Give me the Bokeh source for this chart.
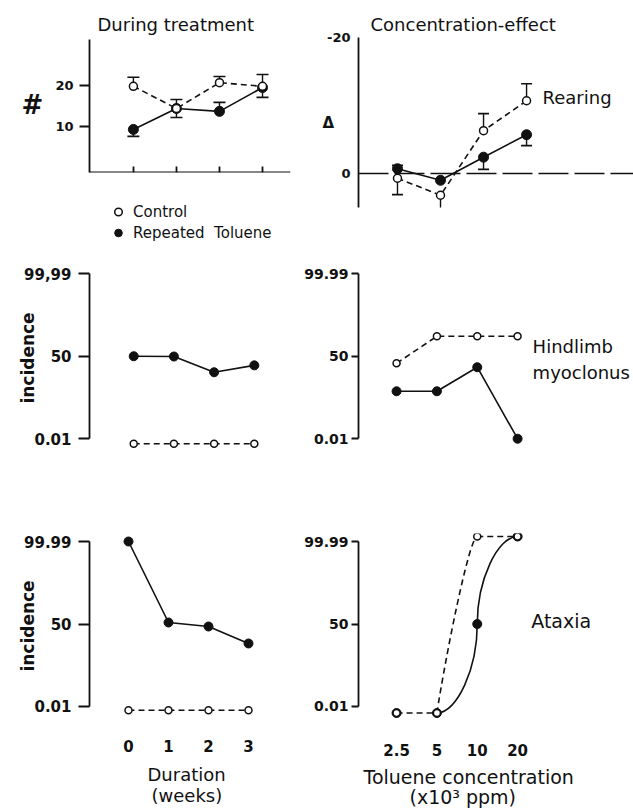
import math
from statistics import NormalDist
from bokeh.plotting import figure
from bokeh.layouts import column, row
from bokeh.models import Range1d, FixedTicker, Span, Label, Legend, LegendItem, Title
from bokeh.embed import file_html
from bokeh.resources import INLINE

NAN = float("nan")

# ---------------- data ----------------
weeks = [0, 1, 2, 3]
week_labels = ["0", "1", "2", "3"]
conc = [2.5, 5, 10, 20]
conc_labels = ["2.5", "5", "10", "20"]

# Rearing (#) during treatment
rear_week_control = [19.8, 14.4, 20.7, 19.8]
rear_week_control_err = [22.0, 16.6, 22.2, 22.7]
rear_week_toluene = [9.3, 14.4, 13.7, 19.5]
rear_week_toluene_err = [7.6, 12.2, 15.9, 17.1]
rear_ticks = [10, 20]
rear_axis_bounds = (-1.2, 31.2)

# Rearing change (delta) vs concentration
rear_conc_control = [0.7, 3.2, -6.3, -10.7]
rear_conc_control_err = [3.1, 5.4, -8.8, -13.2]
rear_conc_toluene = [-0.7, 1.0, -2.4, -5.7]
rear_conc_toluene_err = [-1.2, NAN, -0.6, -4.1]
delta_ticks = [-20, 0]
delta_labels = ["-20", "0"]

# Hindlimb myoclonus incidence (%)
hind_week_control = [0.004, 0.004, 0.004, 0.004]
hind_week_toluene = [50.0, 49.5, 23.5, 34.0]
hind_conc_control = [37.5, 81.6, 81.6, 81.6]
hind_conc_toluene = [5.7, 5.7, 31.0, 0.01]

# Ataxia incidence (%)
atax_week_control = [0.005, 0.005, 0.005, 0.005]
atax_week_toluene = [99.99, 52.7, 45.5, 19.0]
atax_conc_control = [0.003, 0.003, 99.996, 99.996]
atax_conc_toluene = [0.003, 0.003, 50.0, 99.996]

incidence_ticks = [0.01, 50, 99.99]
incidence_labels_comma = ["0.01", "50", "99,99"]
incidence_labels = ["0.01", "50", "99.99"]

FONT = "DejaVu Sans"
INK = "#111111"
LW = 1.6
DASH = "6 4"


def probit(v):
    return round(NormalDist().inv_cdf(v / 100.0), 5)


def pz(vals):
    return [probit(v) for v in vals]


def make_fig(w, h, left, right, top, bottom, xr, yr, x_log=False, title=None):
    kw = {}
    if title is not None:
        kw["title"] = title
    p = figure(width=w, height=h, x_range=xr, y_range=yr,
               x_axis_type="log" if x_log else "linear",
               output_backend="svg", toolbar_location=None,
               min_border_left=left, min_border_right=right,
               min_border_top=top, min_border_bottom=bottom, **kw)
    p.grid.visible = False
    p.outline_line_color = None
    p.background_fill_color = "white"
    p.border_fill_color = "white"
    for ax in p.axis:
        ax.axis_line_color = INK
        ax.axis_line_width = 1.8
        ax.major_tick_line_color = INK
        ax.major_tick_line_width = 1.8
        ax.minor_tick_line_color = None
        ax.major_label_text_font = FONT
        ax.major_label_text_font_style = "bold"
        ax.major_label_text_color = INK
        ax.axis_label_text_font = FONT
        ax.axis_label_text_color = INK
    if p.title is not None:
        p.title.text_font = FONT
        p.title.text_font_style = "normal"
        p.title.text_font_size = "18px"
        p.title.text_color = INK
        p.title.align = "left"
    return p


def incidence_axis(p, labels, axis_label=None, right_col=False):
    ax = p.yaxis[0]
    zt = pz(incidence_ticks)
    ax.ticker = FixedTicker(ticks=zt)
    ax.major_label_overrides = {z: lab for z, lab in zip(zt, labels)}
    ax.bounds = (zt[0], zt[-1])
    ax.major_tick_in = 0
    if right_col:
        ax.major_tick_out = 7
        ax.major_label_standoff = 3
        ax.major_label_text_font_size = "14px"
    else:
        ax.major_tick_out = 11
        ax.major_label_standoff = 7
        ax.major_label_text_font_size = "15px"
    if axis_label:
        ax.axis_label = axis_label
        ax.axis_label_text_font_size = "17px"
        ax.axis_label_text_font_style = "bold"
        ax.axis_label_standoff = -17


def series(p, x, yc, yt):
    p.line(x, yc, line_dash=DASH, line_width=LW, color=INK)
    p.line(x, yt, line_width=LW, color=INK)
    p.scatter(x, yt, marker="circle", size=9, fill_color=INK, line_color=INK)
    p.scatter(x, yc, marker="circle", size=7, fill_color="white", line_color=INK, line_width=1.5)


def side_label(p, x, y, dx, dy, txt, size="18px"):
    p.add_layout(Label(x=x, y=y, x_offset=dx, y_offset=dy, text=txt,
                       text_font=FONT, text_font_size=size, text_color=INK,
                       text_baseline="middle", text_align="left"))


def bottom_axis(p, ticks, labels, standoff):
    xa = p.xaxis[0]
    xa.ticker = FixedTicker(ticks=ticks)
    xa.major_label_overrides = {t: s for t, s in zip(ticks, labels)}
    xa.axis_line_color = None
    xa.major_tick_line_color = None
    xa.major_tick_out = 0
    xa.major_tick_in = 0
    xa.major_label_standoff = standoff
    xa.major_label_text_font_size = "15px"


def bottom_titles(p, lines, size):
    for txt, off, so in lines:
        p.add_layout(Title(text=txt, align="left", offset=off, text_font=FONT, text_font_size=size,
                           text_font_style="normal", text_color=INK, standoff=so), "below")


# ---------------- top-left: rearing during treatment ----------------
p1 = make_fig(300, 180, 89, 10, 37, 8, Range1d(-1.02, 3.65), Range1d(rear_axis_bounds[0], 31.7),
              title="During treatment")
p1.title.offset = 8
p1.title.standoff = 5
xa = p1.xaxis[0]
xa.ticker = FixedTicker(ticks=[], minor_ticks=weeks)
xa.fixed_location = rear_axis_bounds[0]
xa.minor_tick_in = 6
xa.minor_tick_out = 0
xa.minor_tick_line_color = INK
xa.minor_tick_line_width = 1.8
xa.major_label_standoff = 0
ya = p1.yaxis[0]
ya.ticker = FixedTicker(ticks=rear_ticks)
ya.bounds = rear_axis_bounds
ya.major_tick_out = 10
ya.major_tick_in = 0
ya.major_label_standoff = 6
ya.major_label_text_font_size = "13px"
ya.axis_label = "#"
ya.axis_label_orientation = "horizontal"
ya.axis_label_text_font_size = "26px"
ya.axis_label_text_font_style = "bold"
ya.axis_label_standoff = 9

p1.line(weeks, rear_week_control, line_dash=DASH, line_width=LW, color=INK)
p1.line(weeks, rear_week_toluene, line_width=LW, color=INK)
p1.segment(weeks, rear_week_control, weeks, rear_week_control_err, line_width=1.4, color=INK)
p1.segment(weeks, rear_week_toluene, weeks, rear_week_toluene_err, line_width=1.4, color=INK)
p1.scatter(weeks, rear_week_control_err, marker="dash", size=12, line_width=1.6, color=INK)
p1.scatter(weeks, rear_week_toluene_err, marker="dash", size=12, line_width=1.6, color=INK)
p1.scatter(weeks, rear_week_toluene, marker="circle", size=10, fill_color=INK, line_color=INK)
p1.scatter(weeks, rear_week_control, marker="circle", size=8, fill_color="white",
           line_color=INK, line_width=1.5)

# legend panel under the top-left plot (its renderers fall outside its ranges; only the key shows)
pleg = figure(width=300, height=70, x_range=Range1d(0, 1), y_range=Range1d(0, 1),
              output_backend="svg", toolbar_location=None,
              min_border_left=89, min_border_right=10, min_border_top=0, min_border_bottom=0)
pleg.axis.visible = False
pleg.grid.visible = False
pleg.outline_line_color = None
pleg.border_fill_color = "white"
lo = pleg.scatter(x=weeks, y=rear_week_control, marker="circle", size=8, fill_color="white",
                  line_color=INK, line_width=1.5)
lf = pleg.scatter(x=weeks, y=rear_week_toluene, marker="circle", size=10, fill_color=INK,
                  line_color=INK)
leg = Legend(items=[LegendItem(label="Control", renderers=[lo]),
                    LegendItem(label="Repeated  Toluene", renderers=[lf])],
             location=(19, 8), orientation="vertical", margin=0, padding=0, spacing=2,
             border_line_color=None, background_fill_alpha=0,
             label_text_font=FONT, label_text_font_size="15px", label_text_color=INK,
             glyph_width=20, glyph_height=19, label_standoff=5, label_height=19)
pleg.add_layout(leg)

# ---------------- top-right: rearing concentration-effect ----------------
p2 = make_fig(333, 250, 58, 0, 37, 43, Range1d(1.334, 112), Range1d(5, -20), x_log=True,
              title="Concentration-effect")
p2.title.offset = 12
p2.title.standoff = 5
p2.xaxis.visible = False
ya = p2.yaxis[0]
ya.ticker = FixedTicker(ticks=delta_ticks)
ya.major_label_overrides = {t: s for t, s in zip(delta_ticks, delta_labels)}
ya.major_tick_out = 0
ya.major_tick_in = 0
ya.major_label_standoff = 8
ya.major_label_text_font_size = "13px"
ya.axis_label = "Δ"
ya.axis_label_orientation = "horizontal"
ya.axis_label_text_font_size = "15px"
ya.axis_label_text_font_style = "bold"
ya.axis_label_standoff = -10

p2.add_layout(Span(location=0, dimension="width", line_color=INK, line_width=1.5, line_dash="30 6"))
p2.line(conc, rear_conc_control, line_dash=DASH, line_width=LW, color=INK)
p2.line(conc, rear_conc_toluene, line_width=LW, color=INK)
p2.segment(conc, rear_conc_control, conc, rear_conc_control_err, line_width=1.4, color=INK)
p2.segment(conc, rear_conc_toluene, conc, rear_conc_toluene_err, line_width=1.4, color=INK)
p2.scatter(conc, rear_conc_control_err, marker="dash", size=11, line_width=1.6, color=INK)
p2.scatter(conc, rear_conc_toluene_err, marker="dash", size=11, line_width=1.6, color=INK)
p2.scatter(conc, rear_conc_toluene, marker="circle", size=10, fill_color=INK, line_color=INK)
p2.scatter(conc, rear_conc_control, marker="circle", size=8, fill_color="white",
           line_color=INK, line_width=1.5)
side_label(p2, conc[-1], rear_conc_control[-1], 16, 3, "Rearing")

# ---------------- middle-left: hindlimb myoclonus during treatment ----------------
p3 = make_fig(300, 250, 89, 10, 15, 50, Range1d(-1.1, 3.9), Range1d(-4.25, 4.09))
p3.xaxis.visible = False
incidence_axis(p3, incidence_labels_comma, "incidence")
series(p3, weeks, pz(hind_week_control), pz(hind_week_toluene))

# ---------------- middle-right: hindlimb myoclonus vs concentration ----------------
p4 = make_fig(333, 250, 58, 0, 15, 50, Range1d(1.30, 146.5), Range1d(-4.25, 4.09), x_log=True)
p4.xaxis.visible = False
incidence_axis(p4, incidence_labels, right_col=True)
hc = pz(hind_conc_control)
series(p4, conc, hc, pz(hind_conc_toluene))
side_label(p4, conc[-1], hc[-1], 15, -10, "Hindlimb")
side_label(p4, conc[-1], hc[-1], 15, -36, "myoclonus")

# ---------------- bottom-left: ataxia during treatment ----------------
p5 = make_fig(300, 310, 89, 10, 33, 92, Range1d(-0.975, 4.05), Range1d(-4.26, 4.08))
incidence_axis(p5, incidence_labels, "incidence")
bottom_axis(p5, weeks, week_labels, 21)
series(p5, weeks, pz(atax_week_control), pz(atax_week_toluene))
bottom_titles(p5, (("Duration", 58, 14), ("(weeks)", 62, -18)), "18px")

# ---------------- bottom-right: ataxia vs concentration ----------------
p6 = make_fig(333, 310, 58, 0, 33, 92, Range1d(1.30, 146.5), Range1d(-4.26, 4.08), x_log=True)
incidence_axis(p6, incidence_labels, right_col=True)
bottom_axis(p6, conc, conc_labels, 25)

ac = pz(atax_conc_control)
at = pz(atax_conc_toluene)


def logmix(a, b, f):
    return a * (b / a) ** f


# control (dashed): flat at low, steep rise 5 -> 10, flat at top
p6.line(conc[:2], ac[:2], line_dash=DASH, line_width=LW, color=INK)
p6.bezier(x0=[conc[1]], y0=[ac[1]], x1=[conc[2]], y1=[ac[2]],
          cx0=[logmix(conc[1], conc[2], 0.2)], cy0=[ac[1] + 0.3 * (ac[2] - ac[1])],
          cx1=[logmix(conc[1], conc[2], 0.8)], cy1=[ac[2]],
          line_dash=DASH, line_width=LW, line_color=INK)
p6.line(conc[2:], ac[2:], line_dash=DASH, line_width=LW, color=INK)
# toluene (solid): sigmoid through 5 -> 10 -> 20
p6.bezier(x0=[conc[1], conc[2]], y0=[at[1], at[2]], x1=[conc[2], conc[3]], y1=[at[2], at[3]],
          cx0=[logmix(conc[1], conc[2], 0.5), conc[2]],
          cy0=[at[1], at[2] + 0.5 * (at[3] - at[2])],
          cx1=[conc[2], logmix(conc[2], conc[3], 0.5)],
          cy1=[at[1] + 0.5 * (at[2] - at[1]), at[3]],
          line_width=LW, line_color=INK)
p6.scatter(conc, at, marker="circle", size=9, fill_color=INK, line_color=INK)
p6.scatter(conc, ac, marker="circle", size=7, fill_color="white", line_color=INK, line_width=1.5)
side_label(p6, conc[2], at[2], 54, 3, "Ataxia", "19px")
bottom_titles(p6, (("Toluene concentration", 5, 10), ("(x10³ ppm)", 51, -18)), "19px")

layout = column(row(column(p1, pleg), p2), row(p3, p4), row(p5, p6))
open("out.html", "w").write(file_html(layout, INLINE))
